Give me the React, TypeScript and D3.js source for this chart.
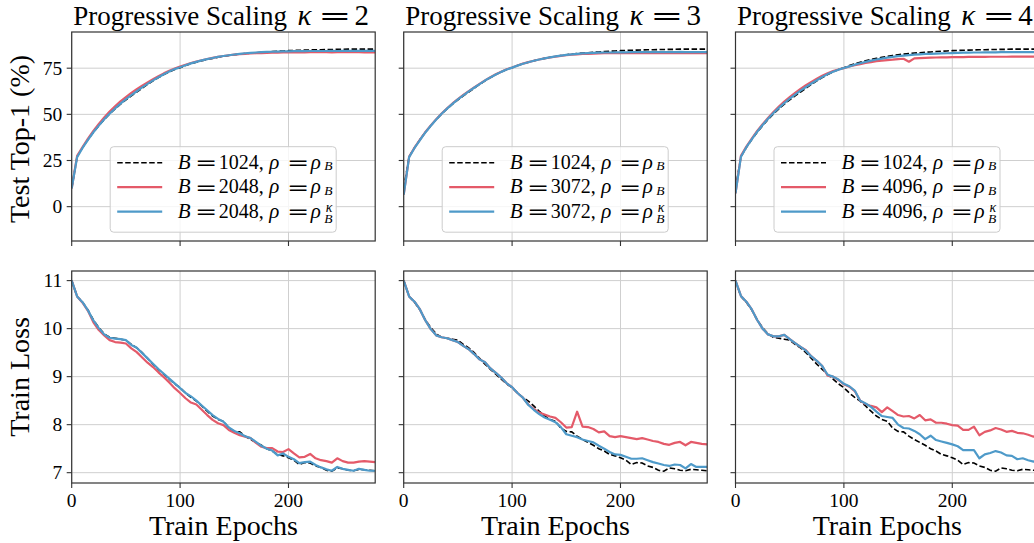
import React from "react";
import * as d3 from "d3";

// epochs at which metrics were logged
const epochs = [
  0, 5, 10, 15, 20, 25, 30, 35, 40, 45,
  50, 55, 60, 65, 70, 75, 80, 85, 90, 95,
  100, 105, 110, 115, 120, 125, 130, 135, 140, 145,
  150, 155, 160, 165, 170, 175, 180, 185, 190, 195,
  200, 205, 210, 215, 220, 225, 230, 235, 240, 245,
  250, 255, 260, 265, 270, 275, 280,
];

const kappas = [2, 3, 4];
const batchSizes = [2048, 3072, 4096];
const baseBatch = 1024;

// baseline B=1024 run (same in every panel)
const baseAcc = [
  10, 27, 32, 36.3, 40.3, 43.8, 47.2, 50.2, 53, 55.5,
  57.8, 60, 62.1, 64.2, 66.2, 68.1, 69.9, 71.5, 73, 74.3,
  75.3, 76.4, 77.4, 78.2, 79, 79.7, 80.3, 80.9, 81.4, 81.9,
  82.3, 82.6, 82.9, 83.2, 83.4, 83.6, 83.8, 84.0, 84.2, 84.35,
  84.5, 84.6, 84.7, 84.8, 84.9, 85, 85, 85.1, 85.1, 85.2,
  85.2, 85.3, 85.3, 85.3, 85.3, 85.3, 85.3,
];
const baseLoss = [
  11.0, 10.67, 10.55, 10.39, 10.18, 10.02, 9.89, 9.82, 9.8, 9.78,
  9.76, 9.67, 9.6, 9.5, 9.38, 9.26, 9.15, 9.05, 8.95, 8.85,
  8.77, 8.66, 8.57, 8.49, 8.39, 8.28, 8.18, 8.11, 8.07, 7.93,
  7.86, 7.85, 7.76, 7.69, 7.63, 7.57, 7.5, 7.45, 7.38, 7.35,
  7.31, 7.26, 7.17, 7.21, 7.2, 7.14, 7.11, 7.05, 7.03, 7.1,
  7.08, 7.05, 7.04, 7.07, 7.06, 7.05, 7.04,
];

// larger batch, rho = rho_B
const redAcc = [
  [
    10, 27.5, 32.3, 36.8, 41, 44.8, 48.3, 51.5, 54.3, 57,
    59.3, 61.6, 63.6, 65.5, 67.3, 69, 70.6, 72.2, 73.6, 74.8,
    75.9, 76.9, 77.8, 78.6, 79.3, 80, 80.6, 81.1, 81.6, 82,
    82.3, 82.6, 82.8, 83, 83.1, 83.2, 83.3, 83.4, 83.4, 83.5,
    83.5, 83.6, 83.6, 83.6, 83.7, 83.7, 83.7, 83.7, 83.6, 83.7,
    83.7, 83.8, 83.7, 83.7, 83.6, 83.7, 83.6,
  ],
  [
    6.5, 27, 32, 36.3, 40.4, 44, 47.4, 50.5, 53.3, 55.9,
    58.3, 60.5, 62.6, 64.6, 66.5, 68.4, 70.1, 71.7, 73.1, 74.4,
    75.4, 76.5, 77.5, 78.3, 79, 79.7, 80.3, 80.8, 81.3, 81.7,
    82, 82.3, 82.5, 82.7, 82.8, 82.9, 83, 83.1, 83.1, 83.1,
    83.2, 83.2, 83.2, 83.2, 83.2, 83.3, 83.2, 83.2, 83.3, 83.2,
    83.2, 83.2, 83.2, 83.2, 83.2, 83.2, 83.1,
  ],
  [
    7.2, 27.5, 32.5, 36.8, 41, 44.6, 48, 51.3, 54.2, 56.9,
    59.3, 61.6, 63.8, 65.8, 67.6, 69.3, 70.9, 72.3, 73.4, 74.3,
    75.0, 75.9, 76.6, 77.2, 77.8, 78.3, 78.8, 79.1, 79.4, 79.6,
    79.9, 80.1, 78.5, 80.3, 80.5, 80.6, 80.7, 80.8, 80.9, 80.9,
    81, 81, 81, 81.1, 81.1, 81.1, 81.1, 81.2, 81.2, 81.2,
    81.2, 81.3, 81.3, 81.3, 81.3, 81.3, 81.3,
  ],
];
const redLoss = [
  [
    11.0, 10.67, 10.54, 10.37, 10.13, 9.97, 9.86, 9.76, 9.72, 9.71,
    9.69, 9.59, 9.51, 9.4, 9.29, 9.2, 9.09, 8.99, 8.88, 8.76,
    8.66, 8.55, 8.46, 8.42, 8.31, 8.2, 8.1, 8.03, 7.99, 7.89,
    7.83, 7.78, 7.75, 7.72, 7.62, 7.54, 7.51, 7.51, 7.44, 7.43,
    7.49, 7.4, 7.32, 7.33, 7.39, 7.3, 7.26, 7.24, 7.21, 7.3,
    7.24, 7.21, 7.21, 7.23, 7.24, 7.23, 7.22,
  ],
  [
    11.0, 10.67, 10.56, 10.4, 10.17, 9.99, 9.86, 9.82, 9.8, 9.76,
    9.72, 9.64, 9.57, 9.47, 9.36, 9.3, 9.17, 9.08, 8.98, 8.86,
    8.78, 8.66, 8.56, 8.42, 8.33, 8.25, 8.21, 8.17, 8.14, 8.05,
    7.94, 7.95, 8.27, 7.96, 7.95, 7.91, 7.84, 7.86, 7.76, 7.74,
    7.76, 7.74, 7.72, 7.7, 7.72, 7.69, 7.66, 7.64, 7.6, 7.58,
    7.62, 7.64, 7.57, 7.64, 7.62, 7.6, 7.59,
  ],
  [
    11.0, 10.68, 10.56, 10.4, 10.18, 10.0, 9.88, 9.84, 9.84, 9.87,
    9.78, 9.7, 9.62, 9.55, 9.42, 9.33, 9.22, 9.02, 9.0, 8.93,
    8.84, 8.79, 8.7, 8.5, 8.43, 8.39, 8.36, 8.26, 8.36, 8.28,
    8.2, 8.17, 8.18, 8.13, 8.2, 8.09, 8.11, 8.04, 8.04, 8.02,
    7.99, 7.98, 7.89, 7.89, 7.96, 7.78, 7.85, 7.88, 7.93, 7.9,
    7.85, 7.87, 7.83, 7.82, 7.79, 7.75, 7.8,
  ],
];

// larger batch, rho = rho_B^kappa
const blueAcc = [
  [
    10, 26.8, 31.8, 36.2, 40.3, 43.9, 47.3, 50.4, 53.2, 55.8,
    58.2, 60.4, 62.5, 64.6, 66.5, 68.4, 70.1, 71.7, 73.2, 74.5,
    75.5, 76.6, 77.6, 78.4, 79.2, 79.9, 80.5, 81.1, 81.6, 82,
    82.4, 82.8, 83.1, 83.3, 83.5, 83.7, 83.8, 83.9, 84, 84.1,
    84.1, 84.2, 84.2, 84.2, 84.3, 84.3, 84.3, 84.3, 84.4, 84.3,
    84.4, 84.4, 84.4, 84.4, 84.4, 84.4, 84.4,
  ],
  [
    6.5, 26.8, 31.8, 36.1, 40.2, 43.8, 47.2, 50.3, 53.1, 55.7,
    58.1, 60.3, 62.4, 64.4, 66.4, 68.3, 70, 71.6, 73, 74.3,
    75.3, 76.4, 77.4, 78.2, 79, 79.7, 80.3, 80.9, 81.4, 81.8,
    82.2, 82.5, 82.8, 83, 83.2, 83.3, 83.4, 83.5, 83.5, 83.6,
    83.6, 83.6, 83.7, 83.7, 83.7, 83.7, 83.7, 83.7, 83.7, 83.7,
    83.7, 83.8, 83.7, 83.7, 83.7, 83.7, 83.7,
  ],
  [
    7.2, 27, 32.2, 36.5, 40.6, 44.2, 47.6, 50.7, 53.5, 56.1,
    58.5, 60.7, 62.8, 64.8, 66.7, 68.5, 70.2, 71.8, 73.1, 74.2,
    75.1, 76, 76.9, 77.7, 78.4, 79.1, 79.7, 80.2, 80.7, 81.1,
    81.5, 81.8, 82.1, 82.3, 82.5, 82.7, 82.8, 82.9, 83, 83.1,
    83.2, 83.3, 83.4, 83.4, 83.5, 83.5, 83.6, 83.6, 83.6, 83.7,
    83.7, 83.7, 83.7, 83.7, 83.7, 83.7, 83.7,
  ],
];
const blueLoss = [
  [
    11.0, 10.67, 10.55, 10.38, 10.17, 10.01, 9.88, 9.81, 9.79, 9.78,
    9.76, 9.66, 9.6, 9.49, 9.38, 9.27, 9.16, 9.06, 8.96, 8.86,
    8.76, 8.66, 8.59, 8.5, 8.4, 8.3, 8.2, 8.12, 8.06, 7.94,
    7.87, 7.82, 7.76, 7.72, 7.64, 7.56, 7.5, 7.46, 7.36, 7.4,
    7.33, 7.28, 7.2, 7.22, 7.23, 7.16, 7.11, 7.07, 7.04, 7.12,
    7.08, 7.06, 7.04, 7.08, 7.06, 7.04, 7.04,
  ],
  [
    11.0, 10.67, 10.56, 10.4, 10.17, 9.99, 9.86, 9.82, 9.8, 9.76,
    9.72, 9.64, 9.57, 9.47, 9.36, 9.3, 9.17, 9.08, 8.98, 8.86,
    8.78, 8.66, 8.56, 8.41, 8.31, 8.22, 8.15, 8.1, 8.05, 7.95,
    7.8, 7.77, 7.74, 7.69, 7.66, 7.63, 7.56, 7.5, 7.43, 7.38,
    7.37, 7.33, 7.29, 7.29, 7.3, 7.26, 7.22, 7.19, 7.16, 7.14,
    7.17, 7.16, 7.09, 7.18, 7.12, 7.12, 7.12,
  ],
  [
    11.0, 10.68, 10.56, 10.4, 10.18, 10.0, 9.88, 9.84, 9.84, 9.87,
    9.78, 9.7, 9.62, 9.54, 9.42, 9.33, 9.22, 9.04, 9.0, 8.94,
    8.85, 8.8, 8.71, 8.5, 8.44, 8.37, 8.27, 8.18, 8.16, 8.14,
    8.0, 7.93, 7.92, 7.87, 7.8, 7.7, 7.77, 7.68, 7.65, 7.62,
    7.59, 7.55, 7.47, 7.47, 7.47, 7.3, 7.38, 7.41, 7.45, 7.42,
    7.36, 7.35, 7.28, 7.3, 7.26, 7.23, 7.27,
  ],
];

const xTicks = [0, 100, 200];
const accTicks = [0, 25, 50, 75];
const lossTicks = [7, 8, 9, 10, 11];

const RED = "#e45a69";
const BLUE = "#4e9ac9";
const FONT = "'Liberation Serif', 'DejaVu Serif', serif";
const EQ_FONT = "'DejaVu Sans', sans-serif";

const W = 1034;
const H = 543;
const panelLeft = [71.7, 403.7, 735.5];
const panelW = 303.5;
const topRow = { top: 32, bottom: 241 };
const botRow = { top: 271, bottom: 483 };

const x = d3.scaleLinear().domain([0, 280]);
const yAcc = d3.scaleLinear().domain([-18.6, 94.6]).range([topRow.bottom, topRow.top]);
const yLoss = d3.scaleLinear().domain([6.785, 11.2]).range([botRow.bottom, botRow.top]);

// math-style wide equals sign, centred on cx
function Eq({ cx, y, size, sx }: { cx: number; y: number; size: number; sx: number }) {
  return (
    <text transform={`translate(${cx},${y}) scale(${sx},1)`} textAnchor="middle"
      fontFamily={EQ_FONT} fontSize={size}>=</text>
  );
}

function Legend({ left, batch }: { left: number; batch: number }) {
  const bx = left + 38.5;
  const by = 146.7;
  const rows = [
    { color: "#000", dash: "5.5,2.5", w: 1.6, b: baseBatch, kappa: false },
    { color: RED, dash: undefined, w: 2.2, b: batch, kappa: false },
    { color: BLUE, dash: undefined, w: 2.2, b: batch, kappa: true },
  ];
  return (
    <g fontFamily={FONT} fill="#000">
      <rect x={bx} y={by} width={226} height={85.5} rx={3.5}
        fill="white" fillOpacity={0.8} stroke="#cccccc" strokeWidth={1} />
      {rows.map((r, i) => {
        const cy = by + 16 + i * 24.5;
        const base = cy + 5.8;
        return (
          <g key={i}>
            <line x1={bx + 7} x2={bx + 52} y1={cy} y2={cy} stroke={r.color}
              strokeWidth={r.w} strokeDasharray={r.dash} />
            <text x={bx + 67.5} y={base} fontSize={21} fontStyle="italic">B</text>
            <Eq cx={bx + 96} y={base + 0.6} size={19} sx={1.4} />
            <text x={bx + 108.5} y={base} fontSize={20}>{r.b},</text>
            <text x={bx + 159} y={base} fontSize={21} fontStyle="italic">ρ</text>
            <Eq cx={bx + 188} y={base + 0.6} size={19} sx={1.4} />
            <text x={bx + 200.5} y={base} fontSize={21} fontStyle="italic">ρ</text>
            <text x={bx + 214} y={base + (r.kappa ? 5 : 1.5)} fontSize={13.5} fontStyle="italic">B</text>
            {r.kappa && (
              <text x={bx + 215.5} y={base - 5.5} fontSize={14} fontStyle="italic">κ</text>
            )}
          </g>
        );
      })}
    </g>
  );
}

function Panel({ col, row }: { col: number; row: number }) {
  const left = panelLeft[col];
  const right = left + panelW;
  const cx = (left + right) / 2;
  const xs = x.copy().range([left, right]);
  const isTop = row === 0;
  const y = isTop ? yAcc : yLoss;
  const box = isTop ? topRow : botRow;
  const ticks = isTop ? accTicks : lossTicks;
  const line = d3.line<number>().x((_, i) => xs(epochs[i])).y((d) => y(d));
  const series = isTop
    ? [baseAcc, redAcc[col], blueAcc[col]]
    : [baseLoss, redLoss[col], blueLoss[col]];
  const clipId = `clip-${row}-${col}`;
  return (
    <g>
      <clipPath id={clipId}>
        <rect x={left} y={box.top} width={panelW} height={box.bottom - box.top} />
      </clipPath>
      {xTicks.map((t) => (
        <line key={"gx" + t} x1={xs(t)} x2={xs(t)} y1={box.top} y2={box.bottom}
          stroke="#cfcfcf" strokeWidth={1} />
      ))}
      {ticks.map((t) => (
        <line key={"gy" + t} x1={left} x2={right} y1={y(t)} y2={y(t)}
          stroke="#cfcfcf" strokeWidth={1} />
      ))}
      <g clipPath={`url(#${clipId})`} fill="none">
        <path d={line(series[0]) || ""} stroke="#000" strokeWidth={1.6} strokeDasharray="5.5,2.5" />
        <path d={line(series[1]) || ""} stroke={RED} strokeWidth={2.2} strokeLinejoin="round" />
        <path d={line(series[2]) || ""} stroke={BLUE} strokeWidth={2.2} strokeLinejoin="round" />
      </g>
      <rect x={left} y={box.top} width={panelW} height={box.bottom - box.top}
        fill="none" stroke="#333" strokeWidth={1.2} />
      {xTicks.map((t) => (
        <g key={"tx" + t}>
          <line x1={xs(t)} x2={xs(t)} y1={box.bottom} y2={box.bottom + 5} stroke="#333" strokeWidth={1.1} />
          {!isTop && (
            <text x={xs(t)} y={box.bottom + 24} textAnchor="middle" fontFamily={FONT} fontSize={19.5}>
              {t}
            </text>
          )}
        </g>
      ))}
      {ticks.map((t) => (
        <g key={"ty" + t}>
          <line x1={left - 5} x2={left} y1={y(t)} y2={y(t)} stroke="#333" strokeWidth={1.1} />
          {col === 0 && (
            <text x={left - 9.5} y={y(t) + 6.5} textAnchor="end" fontFamily={FONT} fontSize={19.5}>
              {t}
            </text>
          )}
        </g>
      ))}
      {isTop && (
        <g fontFamily={FONT} fontSize={27}>
          <text x={cx + 63.5} y={25} textAnchor="end">Progressive Scaling</text>
          <text x={cx + 74} y={25} fontSize={29} fontStyle="italic">κ</text>
          <Eq cx={cx + 111.5} y={24} size={24} sx={1.65} />
          <text x={cx + 131} y={25} fontSize={29}>{kappas[col]}</text>
        </g>
      )}
      {!isTop && (
        <text x={cx} y={535} textAnchor="middle" fontFamily={FONT} fontSize={28}>
          Train Epochs
        </text>
      )}
      {isTop && <Legend left={left} batch={batchSizes[col]} />}
    </g>
  );
}

export default function App() {
  return (
    <svg width={W} height={H} style={{ position: "absolute", left: 0, top: 0, background: "#fff" }}>
      <rect width={W} height={H} fill="#fff" />
      {[0, 1, 2].map((c) => (
        <React.Fragment key={c}>
          <Panel col={c} row={0} />
          <Panel col={c} row={1} />
        </React.Fragment>
      ))}
      <text transform={`translate(29,139) rotate(-90)`} textAnchor="middle" fontFamily={FONT} fontSize={28}>
        Test Top-1 (%)
      </text>
      <text transform={`translate(29,377) rotate(-90)`} textAnchor="middle" fontFamily={FONT} fontSize={28}>
        Train Loss
      </text>
    </svg>
  );
}
